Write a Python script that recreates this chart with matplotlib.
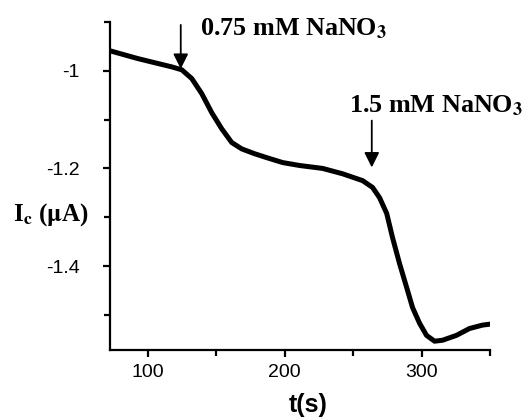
import matplotlib
matplotlib.use("Agg")
import matplotlib.pyplot as plt
from matplotlib.ticker import MultipleLocator

# Current trace
t_s = [72.3, 92.7, 117.5, 124.8, 132.1, 139.4, 146.7, 154.0, 161.3, 168.6, 178.1,
       186.9, 198.5, 210.9, 227.7, 242.3, 256.9, 264.2, 269.3, 274.5, 278.8, 283.9,
       289.1, 293.4, 298.5, 303.6, 309.5, 315.3, 325.5, 335.0, 344.5, 350.0]
i_c = [-0.959, -0.975, -0.992, -0.998, -1.016, -1.047, -1.086, -1.119, -1.147, -1.160,
       -1.170, -1.178, -1.188, -1.194, -1.200, -1.211, -1.225, -1.239, -1.260, -1.292,
       -1.342, -1.395, -1.444, -1.485, -1.517, -1.542, -1.554, -1.552, -1.542, -1.528,
       -1.521, -1.519]

# Additions (arrow position, label)
add_t = [124, 263.6]
add_tip = [-0.996, -1.198]
add_top = [-0.906, -1.102]
add_text = [r"0.75 mM NaNO$_\mathbf{3}$", r"1.5 mM NaNO$_\mathbf{3}$"]
text_x = [137.8, 246.9]
text_y = [-0.928, -1.086]

xticks = [100, 200, 300]
yticks = [-1.4, -1.2, -1.0]
ytick_labels = ["-1.4", "-1.2", "-1"]

plt.rcParams["mathtext.fontset"] = "stix"

fig = plt.figure(figsize=(5.25, 4.17), dpi=100)
ax = fig.add_axes([110 / 525, 1 - 350 / 417, 380 / 525, 328 / 417])

ax.plot(t_s, i_c, color="black", linewidth=3.6, solid_capstyle="round",
        solid_joinstyle="round")

for x, tip, top, lab, tx, ty in zip(add_t, add_tip, add_top, add_text, text_x, text_y):
    ax.annotate("", xy=(x, tip), xytext=(x, top),
                arrowprops=dict(arrowstyle="-|>,head_length=0.9,head_width=0.45",
                                color="black", lw=1.3, shrinkA=0, shrinkB=0))
    ax.text(tx, ty, lab, fontsize=18.8, fontweight="bold", family="Liberation Serif",
            va="baseline", ha="left")

ax.set_xlim(72.3, 350)
ax.set_ylim(-1.572, -0.90)

ax.set_xticks(xticks)
ax.set_yticks(yticks)
ax.set_yticklabels(ytick_labels)
ax.xaxis.set_minor_locator(MultipleLocator(50))
ax.yaxis.set_minor_locator(MultipleLocator(0.1))

ax.spines["top"].set_visible(False)
ax.spines["right"].set_visible(False)
for s in ["left", "bottom"]:
    ax.spines[s].set_linewidth(1.6)

ax.tick_params(axis="both", which="major", direction="out", length=5, width=1.6,
               labelsize=14)
ax.tick_params(axis="both", which="minor", direction="out", length=4, width=1.6)
ax.tick_params(axis="y", which="major", pad=17)
ax.tick_params(axis="x", which="major", pad=5)
for lab in ax.get_xticklabels() + ax.get_yticklabels():
    lab.set_family("Liberation Sans")

ax.set_xlabel("t(s)", fontsize=18, fontweight="bold", family="Liberation Sans",
              labelpad=4)
ax.xaxis.set_label_coords((308 - 110) / 380, -0.13)
fig.text(13 / 525, 1 - 221 / 417, r"I$_\mathbf{c}$ ($\mathbf{\mu}$A)", fontsize=18,
         fontweight="bold", family="Liberation Serif", va="baseline", ha="left")

fig.savefig("out.png", dpi=100)
